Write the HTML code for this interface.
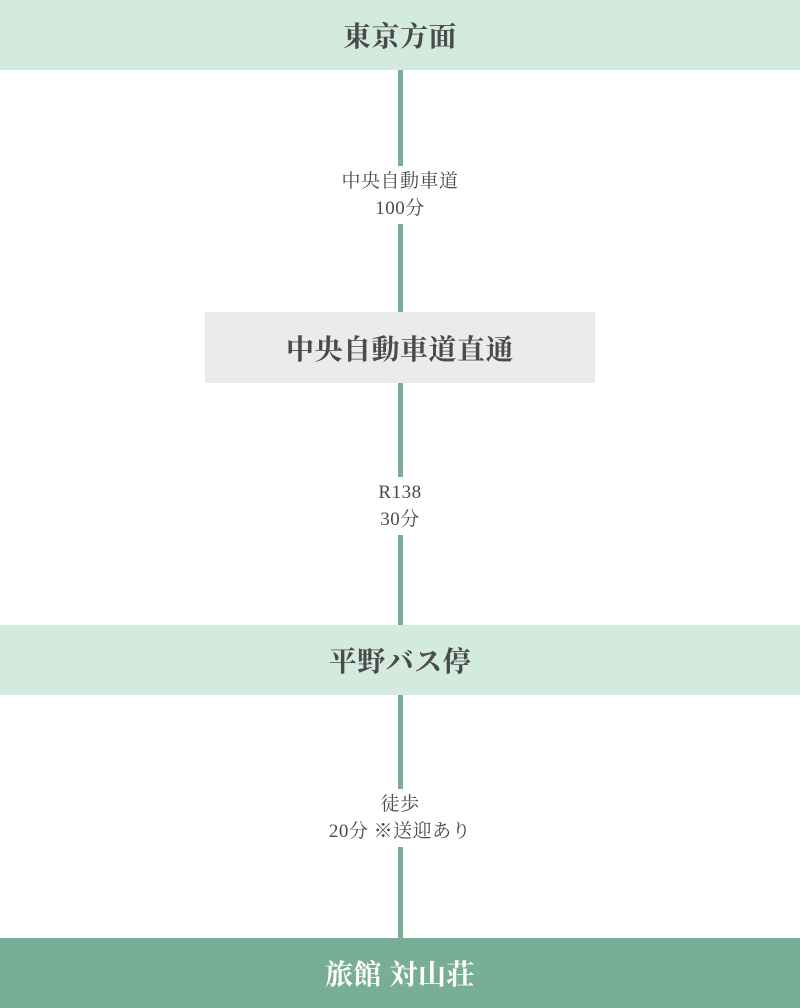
<!DOCTYPE html>
<html><head><meta charset="utf-8"><style>
body{margin:0;width:800px;height:1008px;background:#fff;position:relative;overflow:hidden;font-family:"Liberation Serif","Noto Serif CJK SC",serif;color:#4a4a4a}
.band{position:absolute;left:0;width:800px;height:70px;display:flex;align-items:center;justify-content:center;font-size:28px;font-weight:bold;letter-spacing:0.5px}
.line{position:absolute;left:398px;width:5px;background:#7aae98}
.lbl{position:absolute;text-align:center;font-size:19px;line-height:27px;background:#fff;letter-spacing:0.5px;padding-bottom:2px}
</style></head><body>
<div class="line" style="top:70px;height:870px"></div>
<div class="band" style="top:0;background:#d3eadf">東京方面</div>
<div class="lbl" style="top:166px;left:310px;width:180px;padding-top:2px">中央自動車道<br>100分</div>
<div class="band" style="top:312px;left:205px;width:390px;height:71px;background:#ebebeb">中央自動車道直通</div>
<div class="lbl" style="top:477px;left:350px;width:100px;padding-top:2px">R138<br>30分</div>
<div class="band" style="top:625px;background:#d3eadf">平野バス停</div>
<div class="lbl" style="top:789px;left:300px;width:200px;padding-top:2px">徒歩<br>20分 ※送迎あり</div>
<div class="band" style="top:938px;background:#79ae96;color:#fff">旅館 対山荘</div>
</body></html>
